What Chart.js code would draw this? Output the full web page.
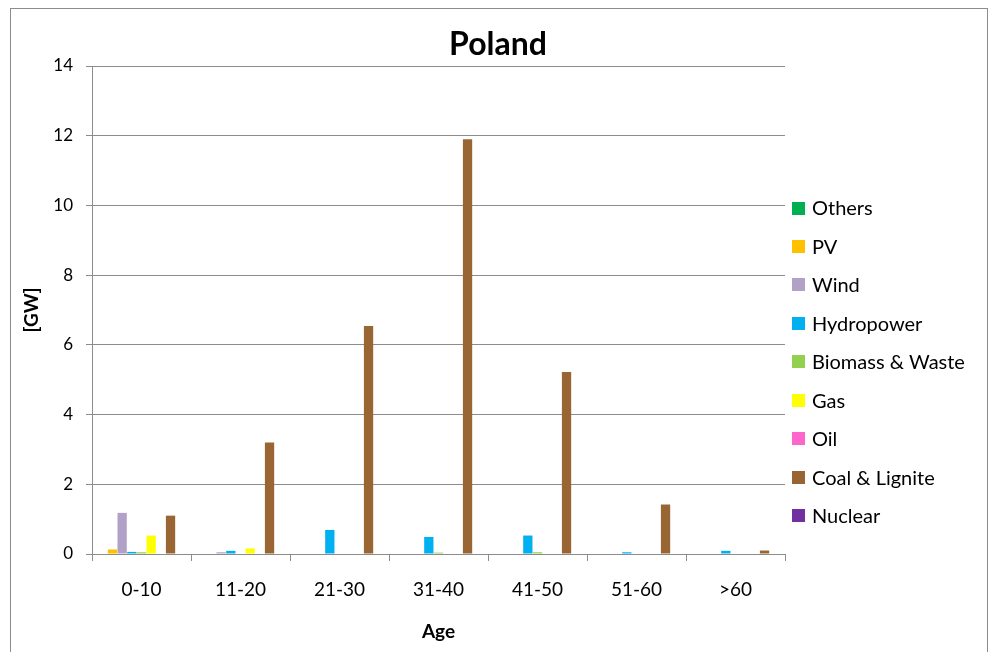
<!DOCTYPE html>
<html>
<head>
<meta charset="utf-8">
<script src="https://cdn.jsdelivr.net/npm/chart.js@4"></script>
<style>
  html, body { margin: 0; padding: 0; background: #fff; }
  canvas { display: block; }
</style>
</head>
<body>
<canvas id="c" width="990" height="652"></canvas>
<script>
// Installed generating capacity in Poland by plant age [GW]
const categories = ['0-10', '11-20', '21-30', '31-40', '41-50', '51-60', '>60'];
const others   = [0,    0,    0,    0,    0,    0,    0];
const pv       = [0.13, 0,    0,    0,    0,    0,    0];
const wind     = [1.18, 0.05, 0,    0,    0,    0,    0];
const hydro    = [0.06, 0.09, 0.69, 0.49, 0.53, 0.05, 0.09];
const biomass  = [0.05, 0,    0,    0.04, 0.05, 0,    0];
const gas      = [0.53, 0.16, 0,    0,    0,    0,    0];
const oil      = [0,    0,    0,    0,    0,    0,    0];
const coal     = [1.1,  3.2,  6.54, 11.9, 5.22, 1.42, 0.1];
const nuclear  = [0,    0,    0,    0,    0,    0,    0];
const yTicks   = [0, 2, 4, 6, 8, 10, 12, 14];

const seriesNames  = ['Others', 'PV', 'Wind', 'Hydropower', 'Biomass & Waste', 'Gas', 'Oil', 'Coal & Lignite', 'Nuclear'];
const seriesValues = [others, pv, wind, hydro, biomass, gas, oil, coal, nuclear];
const seriesColors = ['#00B050', '#FFC000', '#B2A1C7', '#00B0F0', '#92D050', '#FFFF00', '#FF66CC', '#996633', '#7030A0'];

const FONT = 'Lato, "Open Sans", sans-serif';
const GRID = '#8c8c8c';

// Outer frame and heading
const framePlugin = {
  id: 'frame',
  beforeDraw(chart) {
    const ctx = chart.ctx;
    ctx.save();
    ctx.fillStyle = '#fff';
    ctx.fillRect(0, 0, chart.width, chart.height);
    ctx.strokeStyle = '#8c8c8c';
    ctx.lineWidth = 1;
    ctx.strokeRect(10.5, 8.5, 977, 700);
    ctx.restore();
  },
  afterDraw(chart) {
    const ctx = chart.ctx;
    ctx.save();
    ctx.fillStyle = '#000';
    ctx.font = 'bold 32px ' + FONT;
    ctx.textAlign = 'center';
    ctx.textBaseline = 'middle';
    ctx.fillText('Poland', 498, 45);
    ctx.restore();
  }
};

// Legend column on the right, taken from the datasets
const legendPlugin = {
  id: 'sideLegend',
  afterDraw(chart) {
    const ctx = chart.ctx;
    ctx.save();
    ctx.font = '20px ' + FONT;
    ctx.textAlign = 'left';
    ctx.textBaseline = 'middle';
    chart.data.datasets.forEach((ds, i) => {
      const y = 208 + i * 38.45;
      ctx.fillStyle = ds.backgroundColor;
      ctx.fillRect(792, Math.round(y - 6.5), 13, 13);
      ctx.fillStyle = '#000';
      ctx.fillText(ds.label, 812, y + 1);
    });
    ctx.restore();
  }
};

new Chart(document.getElementById('c'), {
  type: 'bar',
  data: {
    labels: categories,
    datasets: seriesNames.map((name, i) => ({
      label: name,
      data: seriesValues[i],
      backgroundColor: seriesColors[i],
      borderWidth: 0,
      categoryPercentage: 0.88,
      barPercentage: 0.96
    }))
  },
  options: {
    responsive: false,
    animation: false,
    devicePixelRatio: 1,
    layout: { padding: { left: 10, right: 205, top: 66, bottom: 0 } },
    plugins: {
      legend: { display: false },
      title: { display: false },
      tooltip: { enabled: false }
    },
    scales: {
      x: {
        afterFit(scale) { scale.height = 98; },
        grid: {
          display: true,
          offset: true,
          drawOnChartArea: false,
          drawTicks: true,
          tickLength: 7,
          color: GRID
        },
        border: { display: true, color: GRID, width: 1 },
        ticks: { color: '#000', font: { family: FONT, size: 19 }, padding: 17 },
        title: {
          display: true,
          text: 'Age',
          color: '#000',
          font: { family: FONT, size: 19, weight: 'bold' },
          padding: { top: 9, bottom: 9 }
        }
      },
      y: {
        min: 0,
        max: 14,
        afterFit(scale) { scale.width = 82; },
        afterBuildTicks(scale) { scale.ticks = yTicks.map(v => ({ value: v })); },
        grid: { color: GRID, tickLength: 6, drawTicks: true },
        border: { display: true, color: GRID, width: 1 },
        ticks: { color: '#000', font: { family: FONT, size: 17 }, padding: 13 },
        title: {
          display: true,
          text: '[GW]',
          color: '#000',
          font: { family: FONT, size: 19, weight: 'bold' },
          padding: { top: 10, bottom: 10 }
        }
      }
    }
  },
  plugins: [framePlugin, legendPlugin]
});
</script>
</body>
</html>
